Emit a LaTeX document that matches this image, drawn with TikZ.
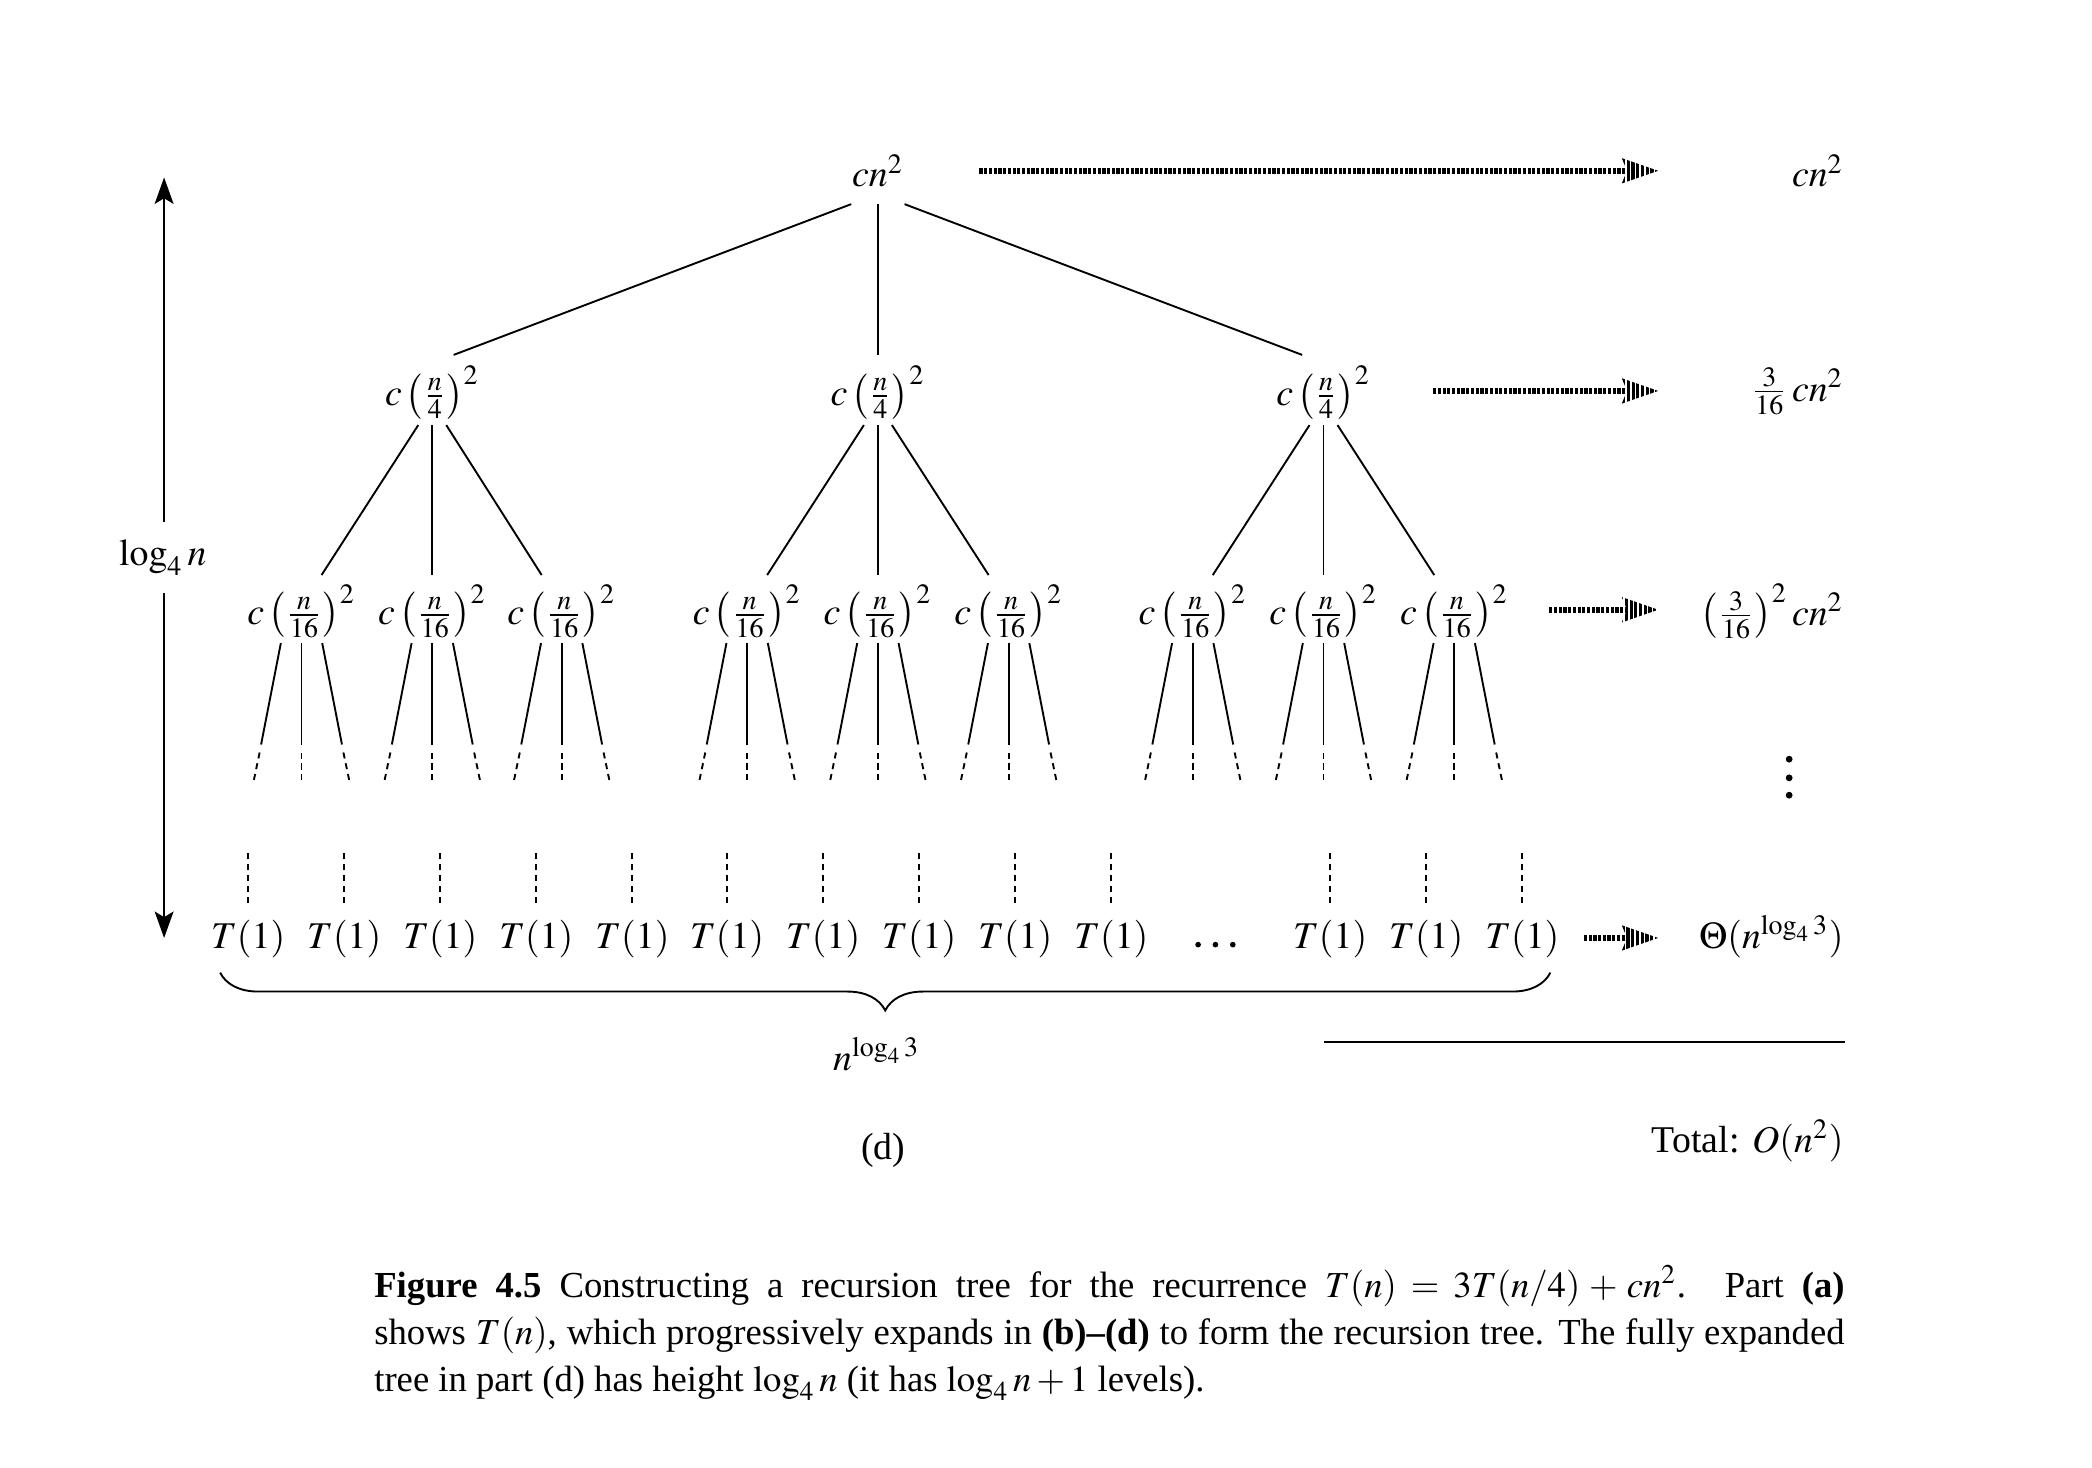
\documentclass[tikz,border=0pt]{standalone}
\usepackage{amsmath}
\usepackage{mathptmx}
\usepackage[no-math]{fontspec}
\setmainfont{Liberation Serif}
\usetikzlibrary{arrows.meta, positioning, calc, decorations.pathreplacing}

\tikzset{
  treeedge/.style={line width=0.5pt},
  dashedge/.style={line width=0.5pt, dash pattern=on 1.6pt off 1.3pt},
  sumline/.style={line width=1.5pt, -{Stealth[length=9.5pt, width=6.4pt, inset=1.2pt]}},
  sumstripe/.style={white, line width=7.5pt, dash pattern=on 0.4pt off 0.85pt},
  heightarrow/.style={line width=0.5pt, -{Stealth[length=7pt, width=5pt, inset=1.5pt]}},
}

\begin{document}
\begin{tikzpicture}[x=0.353pt, y=-0.353pt, every node/.style={inner sep=2pt}]
\useasboundingbox (0,0) rectangle (1568,1100);

% levels of the tree
\node (r) at (658,128) {$cn^2$};
\node (a1) at (324,294) {$c\left(\frac{n}{4}\right)^2$};
\node (a2) at (658,294) {$c\left(\frac{n}{4}\right)^2$};
\node (a3) at (992,294) {$c\left(\frac{n}{4}\right)^2$};
\foreach \p [count=\i] in {226,324,421,560,658,756,894,992,1090}
  \node (b\i) at (\p,458) {$c\left(\frac{n}{16}\right)^2$};

% root to first level
\draw[treeedge] ($(r)+(-20,25)$) -- ($(a1)+(16,-28)$);
\draw[treeedge] ($(r)+(0,25)$) -- ($(a2)+(0,-28)$);
\draw[treeedge] ($(r)+(20,25)$) -- ($(a3)+(-16,-28)$);

% first level to second level
\foreach \up/\kl/\km/\kr in {a1/b1/b2/b3, a2/b4/b5/b6, a3/b7/b8/b9} {
  \draw[treeedge] ($(\up)+(-10.5,24.6)$) -- ($(\kl)+(15,-27)$);
  \draw[treeedge] ($(\up)+(0,24.6)$) -- ($(\km)+(0,-27)$);
  \draw[treeedge] ($(\up)+(10.5,24.6)$) -- ($(\kr)+(-15,-27)$);
}

% fans under the second level
\foreach \i in {1,...,9} {
  \foreach \s in {-1,0,1} {
    \draw[treeedge] ($(b\i)+(15.5*\s,24)$) -- ($(b\i)+(30.3*\s,100)$);
    \draw[dashedge] ($(b\i)+(31.4*\s,106)$) -- ($(b\i)+(36*\s,128)$);
  }
}

% leaves
\foreach \p [count=\i] in {186,258,330,402,474,545,617,689,761,833,997,1069,1141} {
  \node (t\i) at (\p,704) {$T(1)$};
  \draw[dashedge] ($(t\i)+(0,-27)$) -- ($(t\i)+(0,-67)$);
}
\foreach \x in {898,911,924}
  \fill (\x,708) circle (0.75pt);

% cost of each level
\node[anchor=east] (s0) at (1388,128) {$cn^2$};
\node[anchor=east] (s1) at (1388,293) {$\frac{3}{16}\,cn^2$};
\node[anchor=east] (s2) at (1388,458) {$\left(\frac{3}{16}\right)^2 cn^2$};
\node[anchor=east] (s3) at (1388,702) {$\Theta(n^{\log_4 3})$};
\foreach \y in {569,583,596}
  \fill (1341,\y) circle (0.9pt);

\coordinate (p0) at (733,128);  \coordinate (q0) at (1243,128);
\coordinate (p1) at (1073,293); \coordinate (q1) at (1243,293);
\coordinate (p2) at (1160,457); \coordinate (q2) at (1243,457);
\coordinate (p3) at (1186,703); \coordinate (q3) at (1243,703);
\foreach \k in {0,...,3} {
  \draw[sumline] (p\k) -- (q\k);
  \draw[sumstripe] (p\k) -- (q\k);
}

% height of the tree
\node[inner ysep=4.5pt] (lg) at (122,418) {$\log_4 n$};
\coordinate (ltop) at (123,133);
\coordinate (lbot) at (123,703);
\draw[heightarrow] (lg.north -| ltop) -- (ltop);
\draw[heightarrow] (lg.south -| lbot) -- (lbot);

% number of leaves
\coordinate (bl) at (165,729);
\coordinate (br) at (1162,729);
\draw[decorate, decoration={brace, mirror, amplitude=10pt}, line width=0.5pt] (bl) -- (br);
\node (cnt) at (657,790) {$n^{\log_4 3}$};
\node (part) at (662,862) {(d)};

\draw[line width=0.6pt] (992,781) -- (1383,781);
\node[anchor=east] (tot) at (1388,855) {Total: $O(n^2)$};

\node[anchor=north west, inner sep=0, text width=389pt, align=justify,
  font=\fontsize{9.7pt}{12.5pt}\selectfont] (cap) at (280,948)
  {\hyphenpenalty=10000 \emergencystretch=2em
   \textbf{Figure 4.5}\enspace Constructing a recursion tree for the recurrence $T(n) = 3T(n/4) + cn^2$. Part \textbf{(a)}\linebreak
   shows $T(n)$, which progressively expands in \textbf{(b)--(d)} to form the recursion tree. The fully expanded\linebreak
   tree in part (d) has height $\log_4 n$ (it has $\log_4 n + 1$ levels).};
\end{tikzpicture}
\end{document}
